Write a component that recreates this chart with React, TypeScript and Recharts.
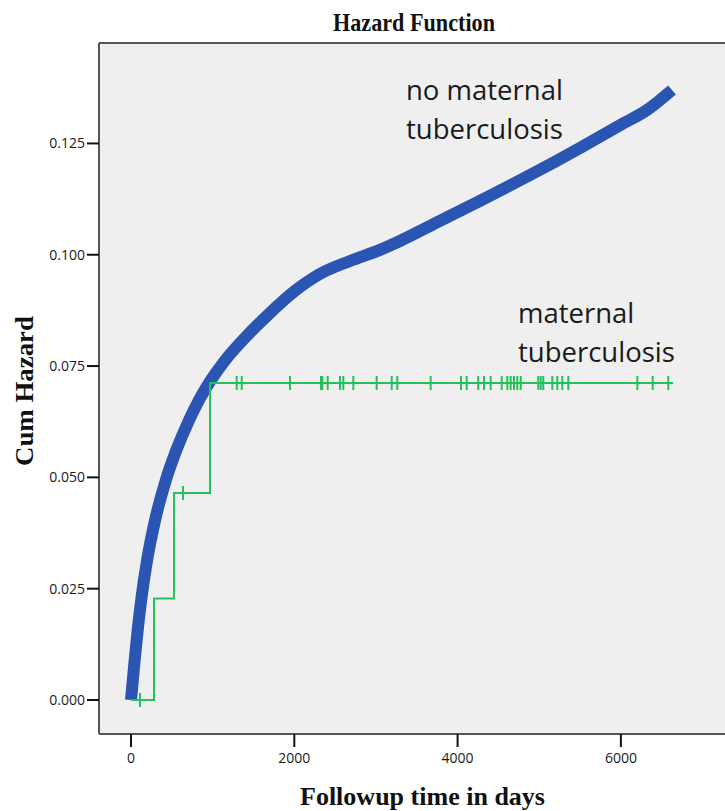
import React from "react";
import {
  ComposedChart,
  Line,
  ReferenceLine,
  Scatter,
  XAxis,
  YAxis,
} from "recharts";

// no maternal tuberculosis: cumulative hazard curve (days, cum hazard)
const blueTime = [
  0, 45, 86, 136, 197, 295, 430, 557, 712, 834, 981, 1157, 1373, 1678, 2009,
  2315, 2682, 3049, 3294, 3784, 4274, 4887, 5499, 5989, 6320, 6626,
];
const blueHazard = [
  0, 0.009, 0.0164, 0.024, 0.0314, 0.0404, 0.0496, 0.0562, 0.0629, 0.0674,
  0.0719, 0.0764, 0.0809, 0.0865, 0.0919, 0.0957, 0.0986, 0.1011, 0.1031,
  0.1076, 0.1121, 0.1179, 0.124, 0.1291, 0.1325, 0.137,
];

// maternal tuberculosis: step function
const greenTime = [0, 282, 527, 968, 6638];
const greenHazard = [0, 0.0228, 0.0465, 0.0712, 0.0712];

// censored observations, grouped by step level
const censorLevel0 = [110];
const censorLevel2 = [637];
const censorLevel3 = [
  1294, 1356, 1947, 2327, 2343, 2409, 2560, 2600, 2723, 3009, 3193, 3261,
  3670, 4042, 4111, 4253, 4323, 4405, 4540, 4609, 4650, 4691, 4731, 4773,
  4988, 5018, 5049, 5160, 5221, 5282, 5356, 6201, 6389, 6580,
];

const xTicks = [0, 2000, 4000, 6000];
const yTicks = [0, 0.025, 0.05, 0.075, 0.1, 0.125];

const X_DOMAIN: [number, number] = [-392, 7275];
const Y_DOMAIN: [number, number] = [-0.00764, 0.14756];

const BLUE = "#2b55b3";
const GREEN = "#22c15b";

const blueData = blueTime.map((t, i) => ({ t, h: blueHazard[i] }));
const greenData = greenTime.map((t, i) => ({ t, h: greenHazard[i] }));
const censorData = [
  ...censorLevel0.map((t) => ({ t, h: greenHazard[0] })),
  ...censorLevel2.map((t) => ({ t, h: greenHazard[2] })),
  ...censorLevel3.map((t) => ({ t, h: greenHazard[3] })),
];

const CensorTick = (props: any) => {
  const { cx, cy } = props;
  if (cx == null || cy == null) return null;
  return (
    <line x1={cx} x2={cx} y1={cy - 7} y2={cy + 7} stroke={GREEN} strokeWidth={2} />
  );
};

const tickStyle = { fontFamily: "'Open Sans', sans-serif", fontSize: 14, fill: "#1a1a1a" };
const serifBold = {
  fontFamily: "'Liberation Serif', 'Times New Roman', serif",
  fontWeight: 700,
  fill: "#111",
};
const noteStyle = { fontFamily: "'Open Sans', sans-serif", fontSize: 27.5, fill: "#1a1a1a" };

export default function App() {
  return (
    <div style={{ position: "relative", width: 725, height: 811 }}>
      <style>{"body{margin:0;overflow:hidden}"}</style>
      <ComposedChart
        width={725}
        height={811}
        margin={{ top: 43, right: 0, bottom: 0, left: 0 }}
      >
        <rect x={99} y={43} width={626} height={691} fill="#efefef" />
        <XAxis
          type="number"
          dataKey="t"
          domain={X_DOMAIN}
          ticks={xTicks}
          allowDataOverflow
          height={77}
          tickSize={13}
          tickMargin={6}
          axisLine={{ stroke: "#555", strokeWidth: 2 }}
          tickLine={{ stroke: "#111", strokeWidth: 2 }}
          tick={tickStyle}
        />
        <YAxis
          type="number"
          dataKey="h"
          domain={Y_DOMAIN}
          ticks={yTicks}
          allowDataOverflow
          width={99}
          tickSize={12}
          tickMargin={2}
          tickFormatter={(v: number) => v.toFixed(3)}
          axisLine={{ stroke: "#555", strokeWidth: 2 }}
          tickLine={{ stroke: "#111", strokeWidth: 2 }}
          tick={tickStyle}
        />
        <ReferenceLine y={Y_DOMAIN[1]} stroke="#555" strokeWidth={2} />
        <Line
          data={blueData}
          dataKey="h"
          type="monotone"
          stroke={BLUE}
          strokeWidth={12}
          dot={false}
          activeDot={false}
          isAnimationActive={false}
        />
        <Line
          data={greenData}
          dataKey="h"
          type="stepAfter"
          stroke={GREEN}
          strokeWidth={2}
          dot={false}
          activeDot={false}
          isAnimationActive={false}
        />
        <Scatter
          data={censorData}
          dataKey="h"
          shape={CensorTick}
          fill={GREEN}
          isAnimationActive={false}
        />
      </ComposedChart>
      <svg
        width={725}
        height={811}
        style={{ position: "absolute", left: 0, top: 0, pointerEvents: "none" }}
      >
        <text x={414} y={31} textAnchor="middle" fontSize={26} textLength={162} lengthAdjust="spacingAndGlyphs" style={serifBold}>
          Hazard Function
        </text>
        <text x={300} y={805} fontSize={26} textLength={245} lengthAdjust="spacingAndGlyphs" style={serifBold}>
          Followup time in days
        </text>
        <text
          x={0}
          y={0}
          textAnchor="middle"
          fontSize={26}
          textLength={150}
          lengthAdjust="spacingAndGlyphs"
          transform="translate(33 391) rotate(-90)"
          style={serifBold}
        >
          Cum Hazard
        </text>
        <text x={406} y={100} style={noteStyle}>no maternal</text>
        <text x={406} y={139} style={noteStyle}>tuberculosis</text>
        <text x={518} y={323} style={noteStyle}>maternal</text>
        <text x={518} y={362} style={noteStyle}>tuberculosis</text>
      </svg>
    </div>
  );
}
